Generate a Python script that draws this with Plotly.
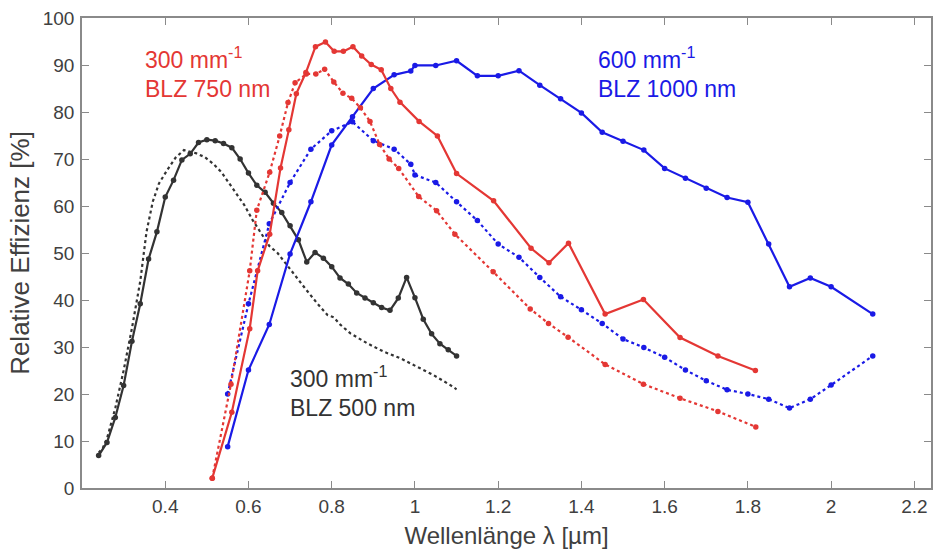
import plotly.graph_objects as go

# Wavelength [µm] and relative efficiency [%] per grating / polarisation
blk_solid_x = [0.24, 0.26, 0.28, 0.30, 0.32, 0.34, 0.36, 0.38, 0.40, 0.42, 0.44, 0.46, 0.48, 0.50,
               0.52, 0.54, 0.56, 0.58, 0.60, 0.62, 0.64, 0.66, 0.68, 0.70, 0.72, 0.74, 0.76, 0.78,
               0.80, 0.82, 0.84, 0.86, 0.88, 0.90, 0.92, 0.94, 0.96, 0.98, 1.00, 1.02, 1.04, 1.06,
               1.08, 1.10]
blk_solid_y = [6.9, 9.7, 15.0, 21.8, 31.2, 39.2, 48.7, 54.5, 61.9, 65.5, 69.8, 71.1, 73.5, 74.1,
               73.9, 73.3, 72.4, 70.0, 67.0, 64.4, 62.9, 60.6, 58.6, 55.8, 52.8, 48.1, 50.1, 48.9,
               47.1, 44.7, 43.4, 41.5, 40.4, 39.4, 38.4, 37.8, 40.4, 44.8, 40.5, 35.9, 32.8, 30.7,
               29.4, 28.1]

blk_dot_x = [0.24, 0.25, 0.26, 0.28, 0.30, 0.32, 0.34, 0.355, 0.37, 0.385, 0.405, 0.425, 0.445,
             0.46, 0.475, 0.495, 0.515, 0.535, 0.555, 0.575, 0.59, 0.61, 0.63, 0.65, 0.67, 0.70,
             0.735, 0.765, 0.79, 0.805, 0.82, 0.845, 0.885, 0.925, 0.965, 1.005, 1.045, 1.085, 1.10]
blk_dot_y = [7.5, 8.5, 10.5, 17.0, 25.0, 34.0, 44.0, 54.5, 60.9, 64.8, 67.7, 70.3, 71.9,
             71.6, 71.2, 70.4, 69.0, 67.2, 64.7, 62.2, 60.2, 57.0, 54.2, 51.5, 50.0, 46.5,
             42.6, 39.3, 36.8, 36.3, 34.8, 32.9, 30.8, 29.0, 27.6, 25.8, 24.0, 21.9, 21.0]

red_solid_x = [0.513, 0.56, 0.603, 0.622, 0.651, 0.677, 0.697, 0.715, 0.738, 0.761, 0.785, 0.806,
               0.828, 0.851, 0.872, 0.895, 0.919, 0.942, 0.964, 1.01, 1.054, 1.10, 1.189, 1.279,
               1.322, 1.369, 1.457, 1.549, 1.637, 1.728, 1.818]
red_solid_y = [2.1, 16.1, 33.9, 46.2, 54.0, 68.1, 76.2, 83.9, 88.4, 93.9, 94.9, 92.9,
               92.9, 93.9, 91.9, 90.1, 89.0, 85.0, 82.1, 78.0, 74.9, 66.9, 61.1, 51.0,
               47.9, 52.1, 37.0, 40.1, 32.0, 28.1, 25.0]

red_dot_x = [0.513, 0.558, 0.603, 0.62, 0.651, 0.675, 0.695, 0.712, 0.739, 0.762, 0.783, 0.805,
             0.827, 0.848, 0.869, 0.892, 0.915, 0.938, 0.961, 1.009, 1.052, 1.096, 1.188, 1.277,
             1.321, 1.368, 1.457, 1.549, 1.637, 1.728, 1.819]
red_dot_y = [2.1, 22.1, 46.2, 59.1, 67.2, 74.9, 82.0, 86.2, 88.1, 88.1, 89.1, 86.4,
             84.0, 82.9, 80.9, 78.0, 73.1, 70.0, 68.0, 62.0, 59.0, 54.0, 46.0, 38.1,
             35.0, 32.1, 26.3, 22.1, 19.1, 16.3, 13.0]

blu_x = [0.55, 0.60, 0.65, 0.70, 0.75, 0.80, 0.85, 0.90, 0.95, 0.99, 1.00, 1.05, 1.10, 1.15,
         1.20, 1.25, 1.30, 1.35, 1.40, 1.45, 1.50, 1.55, 1.60, 1.65, 1.70, 1.75, 1.80, 1.85,
         1.90, 1.95, 2.00, 2.10]
blu_solid_y = [8.8, 25.1, 34.8, 49.8, 60.9, 73.0, 79.0, 85.0, 87.9, 88.7, 89.9, 89.9, 90.9, 87.7,
               87.7, 88.8, 85.7, 82.8, 79.8, 75.7, 73.8, 71.9, 68.0, 65.9, 63.8, 61.8, 60.8, 51.9,
               42.8, 44.7, 42.8, 37.0]
blu_dot_y = [20.0, 39.2, 56.2, 65.0, 72.1, 76.0, 77.9, 73.9, 72.1, 68.9, 66.6, 65.0, 60.9, 56.9,
             51.9, 49.1, 44.8, 40.7, 37.9, 35.0, 31.7, 29.9, 27.8, 25.1, 22.8, 20.9, 20.0, 18.9,
             17.0, 18.9, 21.9, 28.1]

x_ticks = [0.4, 0.6, 0.8, 1.0, 1.2, 1.4, 1.6, 1.8, 2.0, 2.2]
x_tick_text = ["0.4", "0.6", "0.8", "1", "1.2", "1.4", "1.6", "1.8", "2", "2.2"]
y_ticks = [0, 10, 20, 30, 40, 50, 60, 70, 80, 90, 100]

BLACK = "#333333"
RED = "#e43734"
BLUE = "#1a1ae6"
AXIS = "#8a8a8a"
TICKFONT = "Liberation Sans Narrow, Arial Narrow, Liberation Sans, Arial, sans-serif"
TEXTFONT = "Liberation Sans, Arial, sans-serif"

fig = go.Figure()


def add_series(x, y, color, dash, markers=True):
    fig.add_trace(go.Scatter(
        x=x, y=y,
        mode="lines+markers" if markers else "lines",
        line=dict(color=color, width=2.2, dash=dash),
        marker=dict(color=color, size=5.5),
        showlegend=False,
        hoverinfo="x+y",
    ))


add_series(blk_dot_x, blk_dot_y, BLACK, "dot", markers=False)
add_series(blk_solid_x, blk_solid_y, BLACK, "solid")
add_series(blu_x, blu_dot_y, BLUE, "dot")
add_series(blu_x, blu_solid_y, BLUE, "solid")
add_series(red_dot_x, red_dot_y, RED, "dot")
add_series(red_solid_x, red_solid_y, RED, "solid")

# grating labels: line density and blaze wavelength
labels = [
    (0.347, 91.4, "300 mm<sup>-1</sup>", RED),
    (0.347, 84.8, "BLZ 750 nm", RED),
    (1.434, 91.4, "600 mm<sup>-1</sup>", BLUE),
    (1.434, 84.8, "BLZ 1000 nm", BLUE),
    (0.695, 23.7, "300 mm<sup>-1</sup>", BLACK),
    (0.695, 17.1, "BLZ 500 nm", BLACK),
]
for lx, ly, txt, col in labels:
    fig.add_annotation(x=lx, y=ly, xref="x", yref="y", text=txt, showarrow=False,
                       xanchor="left", yanchor="middle",
                       font=dict(family=TEXTFONT, size=23, color=col))

axis_common = dict(
    showline=True, linecolor=AXIS, linewidth=1.5, mirror="ticks",
    ticks="inside", ticklen=7, tickwidth=1.3, tickcolor=AXIS,
    showgrid=False, zeroline=False,
    tickfont=dict(family=TICKFONT, size=19, color="#404040"),
)

fig.update_layout(
    width=936, height=553,
    margin=dict(l=82, r=3, t=18, b=65),
    plot_bgcolor="white", paper_bgcolor="white",
    xaxis=dict(range=[0.2, 2.24], tickvals=x_ticks, ticktext=x_tick_text,
               title=dict(text="Wellenlänge λ [µm]", standoff=12,
                          font=dict(family=TICKFONT, size=24, color="#404040")),
               **axis_common),
    yaxis=dict(range=[0, 100], tickvals=y_ticks, ticklabelstandoff=2,
               title=dict(text="Relative Effizienz [%]", standoff=6,
                          font=dict(family=TICKFONT, size=26, color="#404040")),
               **axis_common),
)

fig.write_html("out.html")
